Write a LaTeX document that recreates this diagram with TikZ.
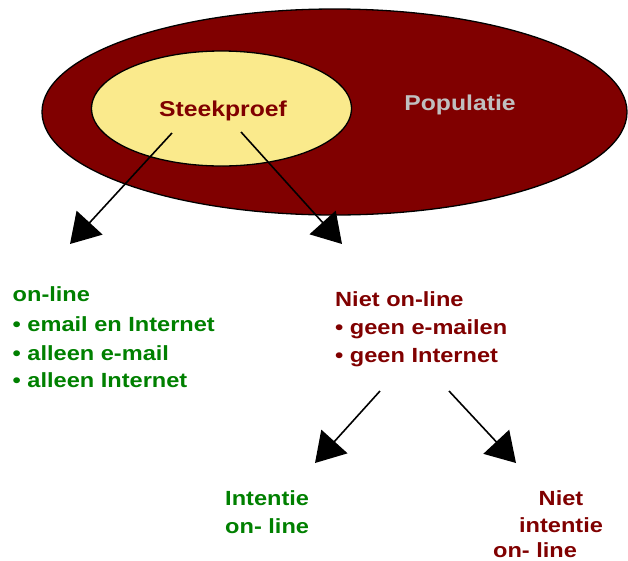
\documentclass[tikz,border=0pt]{standalone}
\usepackage{fontspec}
\setmainfont{Liberation Sans}[FakeStretch=1.15]
\usetikzlibrary{shapes.geometric,arrows.meta}
\definecolor{maroon}{RGB}{128,0,0}
\definecolor{leafgreen}{RGB}{0,128,0}
\definecolor{paleyellow}{RGB}{250,234,140}
\definecolor{silvergray}{RGB}{192,192,192}
\begin{document}
\begin{tikzpicture}[x=1pt,y=-1pt,
  blob/.style={ellipse,draw=black,line width=1.3pt,inner sep=0pt},
  lbl/.style={font=\fontsize{20.5}{28}\selectfont\bfseries,inner sep=0pt},
  title/.style={font=\fontsize{21.5}{26}\selectfont\bfseries,inner sep=0pt},
  pointer/.style={line width=1.6pt,-{Triangle[length=29pt,width=35pt]}}]
\useasboundingbox (0,0) rectangle (628,560);
% population and sample
\node[blob,fill=maroon,minimum width=585pt,minimum height=206pt] (pop) at (334.5,112) {};
\node[blob,fill=paleyellow,minimum width=260pt,minimum height=115pt] (sample) at (221.5,108.5) {};
\node[title,text=maroon] (steek) at (223,110.5) {Steekproef};
\node[title,text=silvergray] (popl) at (460,105) {Populatie};
% branch end points
\coordinate (s1) at (172,133);
\coordinate (t1) at (70,244);
\coordinate (s2) at (241,132);
\coordinate (t2) at (342,244);
\coordinate (s3) at (380,391);
\coordinate (t3) at (315,463);
\coordinate (s4) at (449,391);
\coordinate (t4) at (516,463);
\draw[pointer] (s1) -- (t1);
\draw[pointer] (s2) -- (t2);
\draw[pointer] (s3) -- (t3);
\draw[pointer] (s4) -- (t4);
% on-line group
\node[lbl,text=leafgreen,anchor=base west] (on) at (12.5,301) {on-line};
\node[lbl,text=leafgreen,anchor=base west] (on1) at (12.5,331) {• email en Internet};
\node[lbl,text=leafgreen,anchor=base west] (on2) at (12.5,360) {• alleen e-mail};
\node[lbl,text=leafgreen,anchor=base west] (on3) at (12.5,387) {• alleen Internet};
% not on-line group
\node[lbl,text=maroon,anchor=base west] (off) at (335,306) {Niet on-line};
\node[lbl,text=maroon,anchor=base west] (off1) at (335,334) {• geen e-mailen};
\node[lbl,text=maroon,anchor=base west] (off2) at (335,362) {• geen Internet};
% intention
\node[lbl,text=leafgreen,anchor=base west] (int1) at (225,505) {Intentie};
\node[lbl,text=leafgreen,anchor=base west] (int2) at (225,533) {on- line};
\node[lbl,text=maroon,anchor=base] (nint1) at (561,505) {Niet};
\node[lbl,text=maroon,anchor=base] (nint2) at (561,532) {intentie};
\node[lbl,text=maroon,anchor=base] (nint3) at (535,557) {on- line};
\end{tikzpicture}
\end{document}
